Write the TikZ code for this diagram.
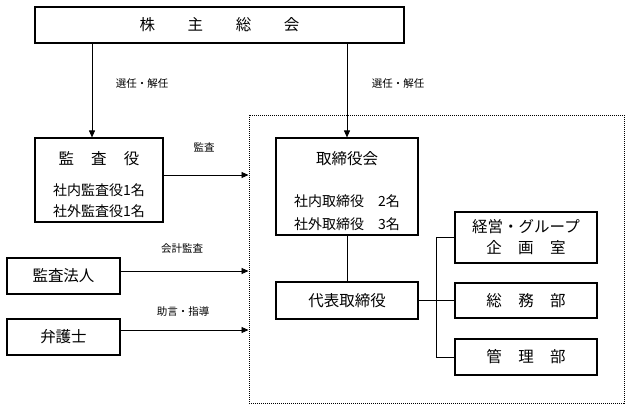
\documentclass[tikz,border=0pt]{standalone}
\usepackage{fontspec}
\setmainfont{Noto Sans CJK JP}
\usetikzlibrary{arrows.meta}

\begin{document}
\begin{tikzpicture}[x=1pt, y=-1pt,
  box/.style={draw, line width=1.1pt, inner sep=0pt, align=center, font=\fontsize{15.5}{21}\selectfont},
  sub/.style={font=\fontsize{14}{17}\selectfont, inner sep=0pt},
  lbl/.style={font=\fontsize{10.5}{13}\selectfont, inner sep=0pt},
  arr/.style={-{Triangle[length=7pt,width=6pt]}, line width=0.9pt},
  conn/.style={line width=0.9pt}]
\useasboundingbox (0,0) rectangle (633,410);
\node[draw, dash pattern=on 1pt off 1pt, line width=1pt, minimum width=375, minimum height=288, inner sep=0pt] (group) at (436.5,259) {};
\node[box, minimum width=369, minimum height=36] (soukai) at (219.5,25)
  {株\hspace{2.1em}主\hspace{2.1em}総\hspace{2.1em}会};
% audit side
\node[box, minimum width=128, minimum height=84] (kansayaku) at (99,180) {};
\node[box, draw=none] (kansayakuT) at (99,159) {監\hspace{1.1em}査\hspace{1.1em}役};
\node[sub] (kansayakuA) at (99,190) {社内監査役1名};
\node[sub] (kansayakuB) at (99,211) {社外監査役1名};
\node[box, minimum width=113, minimum height=36] (hojin) at (63.5,276) {監査法人};
\node[box, minimum width=113, minimum height=36] (bengoshi) at (63.5,337) {弁護士};
% board
\node[box, minimum width=142, minimum height=97] (torishimari) at (347,186.5) {};
\node[box, draw=none] (torishimariT) at (347,159) {取締役会};
\node[sub] (torishimariA) at (347,201) {社内取締役　2名};
\node[sub] (torishimariB) at (347,224) {社外取締役　3名};
\node[box, minimum width=142, minimum height=37] (daihyo) at (347,300.5) {代表取締役};
\node[box, minimum width=142, minimum height=51] (keiei) at (526,237.5)
  {経営・グループ\\企\hspace{1.05em}画\hspace{1.05em}室};
\node[box, minimum width=142, minimum height=35] (soumu) at (526,300.5)
  {総\hspace{1.05em}務\hspace{1.05em}部};
\node[box, minimum width=142, minimum height=36] (kanri) at (526,357)
  {管\hspace{1.05em}理\hspace{1.05em}部};
% connectors
\coordinate (kTop) at ([xshift=-7pt]kansayaku.north);
\draw[arr] (kTop |- soukai.south) -- (kTop);
\draw[arr] (torishimari.north |- soukai.south) -- (torishimari.north);
\node[lbl] (senninL) at (142,84) {選任・解任};
\node[lbl] (senninR) at (398,84) {選任・解任};
\coordinate (kR) at ([yshift=5pt]kansayaku.east);
\draw[arr] (kR) -- (kR -| group.west);
\node[lbl] (kansaL) at (204,147) {監査};
\coordinate (hR) at ([yshift=5pt]hojin.east);
\draw[arr] (hR) -- (hR -| group.west);
\node[lbl] (kaikeiL) at (182,249) {会計監査};
\coordinate (bR) at ([yshift=7pt]bengoshi.east);
\draw[arr] (bR) -- (bR -| group.west);
\node[lbl] (jogenL) at (183,312) {助言・指導};
\draw[conn] (torishimari.south) -- (daihyo.north);
\coordinate (br) at (436,0);
\draw[conn] (daihyo.east) -- (soumu.west);
\draw[conn] (keiei.west) -- (keiei.west -| br) -- (kanri.west -| br) -- (kanri.west);
\end{tikzpicture}
\end{document}
